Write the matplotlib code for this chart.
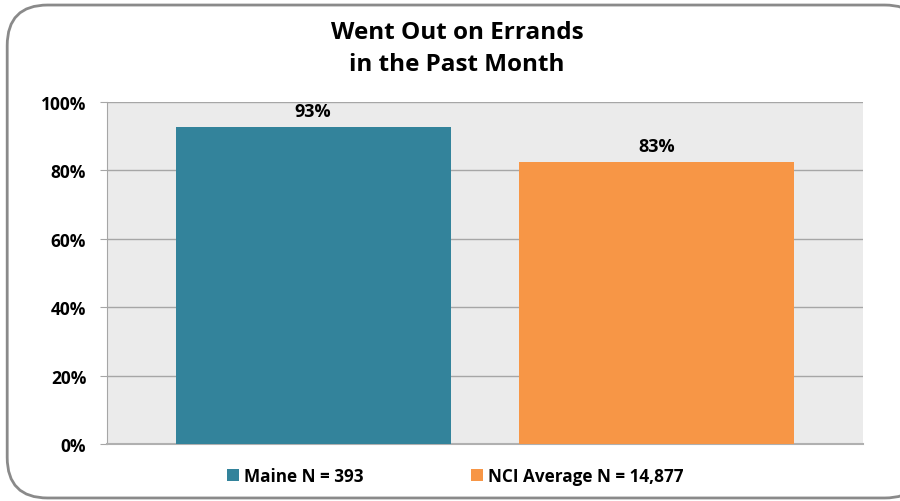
import matplotlib.pyplot as plt
from matplotlib.patches import FancyBboxPatch, Patch

categories = ["Maine N = 393", "NCI Average N = 14,877"]
values = [92.7, 82.6]
colors = ["#33839b", "#f79646"]
yticks = [0, 20, 40, 60, 80, 100]

plt.rcParams['font.family'] = ['Open Sans', 'DejaVu Sans']

fig = plt.figure(figsize=(9, 5.02), dpi=100)
frame = FancyBboxPatch((0.008, 0.006), 1.02, 0.982, boxstyle="round,pad=0,rounding_size=0.045",
                       transform=fig.transFigure, facecolor="white", edgecolor="#8a8a8a",
                       linewidth=2, mutation_aspect=900 / 502, zorder=-5)
fig.patches.append(frame)

ax = fig.add_axes([107 / 900, 1 - 445 / 502, 756 / 900, 342 / 502])
ax.set_facecolor("#ebebeb")
x = range(len(values))
ax.bar(x, values, width=0.8, color=colors, zorder=3)
for xi, v in zip(x, values):
    ax.text(xi, v + 2.0, f"{round(v)}%", ha="center", va="bottom", fontsize=13, fontweight="bold")

ax.set_xlim(-0.6, 1.6)
ax.set_ylim(0, 100)
ax.set_yticks(yticks)
ax.set_yticklabels([f"{t}%" for t in yticks], fontsize=12.5, fontweight="bold")
ax.set_xticks([])
ax.grid(axis="y", color="#a6a6a6", linewidth=1, zorder=0)
for s in ["top", "right"]:
    ax.spines[s].set_visible(False)
ax.spines["left"].set_color("#a6a6a6")
ax.spines["bottom"].set_color("#b0b0b0")
ax.spines["bottom"].set_linewidth(1.5)
ax.tick_params(axis="y", length=5, color="#a6a6a6", pad=10)

fig.text(457 / 900, 1 - 49 / 502, "Went Out on Errands\nin the Past Month", ha="center", va="center",
         fontsize=17.5, fontweight="bold", linespacing=1.45)

handles = [Patch(facecolor=c) for c in colors]
fig.legend(handles, categories, loc="center", bbox_to_anchor=(455 / 900, 1 - 477 / 502), ncol=2,
           frameon=False, prop={"size": 12.3, "weight": "bold"}, handlelength=0.7, handleheight=0.7,
           handletextpad=0.3, columnspacing=6.3)

fig.savefig("out.png", dpi=100)
